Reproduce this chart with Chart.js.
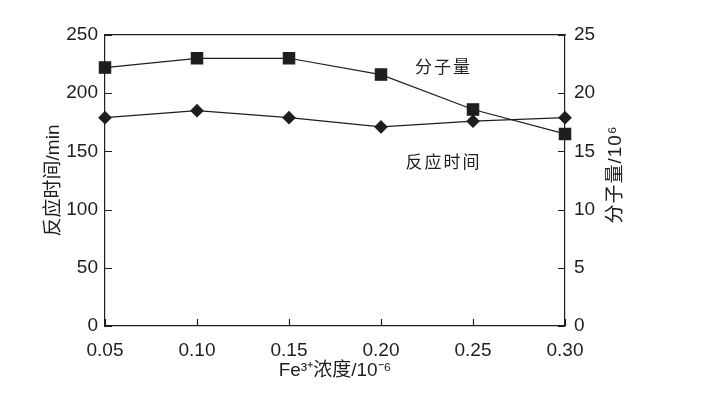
<!DOCTYPE html>
<html>
<head>
<meta charset="utf-8">
<script src="https://cdn.jsdelivr.net/npm/chart.js@4"></script>
<style>
  body { margin: 0; background: #fff; }
  #chart { display: block; }
</style>
</head>
<body>
<canvas id="chart" width="703" height="397"></canvas>
<script>
// 数据 — Fe3+ 浓度对反应时间和分子量的影响
const concentrations = [0.05, 0.10, 0.15, 0.20, 0.25, 0.30];
const reactionTime = [179, 185, 179, 171, 176, 179];   // min, 左轴
const molecularWeight = [22.2, 23.0, 23.0, 21.6, 18.6, 16.5]; // 10^6, 右轴

const xTicks = [0.05, 0.10, 0.15, 0.20, 0.25, 0.30];
const yLeftTicks = [0, 50, 100, 150, 200, 250];
const yRightTicks = [0, 5, 10, 15, 20, 25];

// 曲线旁的文字标注 (数据坐标)
const notes = [
  { text: '分子量', x: 0.234, y: 221 },
  { text: '反应时间', x: 0.234, y: 140 }
];

const INK = '#1e1e1e';
const FONT = '"Liberation Sans", "Noto Sans CJK SC", sans-serif';

function fixTicks(list) {
  return scale => { scale.ticks = list.map(v => ({ value: v })); };
}

// 向内的刻度线 + 标注 + 右轴标题
const extras = {
  id: 'extras',
  afterDatasetsDraw(chart) {
    const { ctx, chartArea: a, scales } = chart;
    ctx.save();
    ctx.strokeStyle = INK;
    ctx.lineWidth = 1.2;
    ctx.beginPath();
    xTicks.forEach(v => {
      const px = Math.round(scales.x.getPixelForValue(v)) + 0.5;
      ctx.moveTo(px, a.bottom); ctx.lineTo(px, a.bottom - 7);
    });
    yLeftTicks.forEach(v => {
      const py = Math.round(scales.y.getPixelForValue(v)) + 0.5;
      ctx.moveTo(a.left, py); ctx.lineTo(a.left + 7, py);
    });
    yRightTicks.forEach(v => {
      const py = Math.round(scales.y2.getPixelForValue(v)) + 0.5;
      ctx.moveTo(a.right, py); ctx.lineTo(a.right - 7, py);
    });
    ctx.stroke();

    ctx.fillStyle = INK;
    ctx.font = '17px ' + FONT;
    ctx.letterSpacing = '2px';
    ctx.textAlign = 'center';
    ctx.textBaseline = 'middle';
    notes.forEach(n => {
      ctx.fillText(n.text, scales.x.getPixelForValue(n.x), scales.y.getPixelForValue(n.y));
    });

    // 右轴标题, 自下而上
    ctx.letterSpacing = '1px';
    ctx.translate(a.right + 51, (a.top + a.bottom) / 2 - 6);
    ctx.rotate(-Math.PI / 2);
    ctx.font = '19px ' + FONT;
    ctx.fillText('分子量/10⁶', 0, 0);
    ctx.restore();
  }
};

const tickFont = { family: FONT, size: 19 };
const axisBorder = { display: true, color: INK, width: 1.2 };
const noGrid = { display: false, drawTicks: false };

new Chart(document.getElementById('chart'), {
  type: 'line',
  data: {
    datasets: [
      {
        label: '分子量',
        data: concentrations.map((c, i) => ({ x: c, y: molecularWeight[i] })),
        yAxisID: 'y2',
        borderColor: INK,
        backgroundColor: INK,
        borderWidth: 1.2,
        pointStyle: 'rect',
        pointRadius: 8,
        clip: false
      },
      {
        label: '反应时间',
        data: concentrations.map((c, i) => ({ x: c, y: reactionTime[i] })),
        yAxisID: 'y',
        borderColor: INK,
        backgroundColor: INK,
        borderWidth: 1.2,
        pointStyle: 'rectRot',
        pointRadius: 6,
        clip: false
      }
    ]
  },
  options: {
    responsive: false,
    animation: false,
    layout: { padding: 0 },
    plugins: { legend: { display: false }, tooltip: { enabled: false } },
    elements: { line: { tension: 0 } },
    scales: {
      x: {
        type: 'linear',
        position: 'bottom',
        min: 0.05,
        max: 0.30,
        afterBuildTicks: fixTicks(xTicks),
        afterFit: s => { s.height = 71; },
        grid: noGrid,
        border: axisBorder,
        ticks: {
          color: INK, padding: 13, font: tickFont,
          callback: v => Number(v).toFixed(2)
        },
        title: {
          display: true, text: 'Fe³⁺浓度/10⁻⁶', color: INK,
          font: { family: FONT, size: 19 },
          padding: { top: 15, bottom: 15 }
        }
      },
      xTop: {
        type: 'linear',
        position: 'top',
        min: 0.05,
        max: 0.30,
        afterFit: s => { s.height = 35; },
        grid: noGrid,
        border: axisBorder,
        ticks: { display: false }
      },
      y: {
        position: 'left',
        min: 0,
        max: 250,
        afterBuildTicks: fixTicks(yLeftTicks),
        afterFit: s => { s.width = 105; },
        grid: noGrid,
        border: axisBorder,
        ticks: { color: INK, padding: 7, font: tickFont },
        title: {
          display: true, text: '反应时间/min', color: INK,
          font: { family: FONT, size: 19 },
          padding: { top: 42, bottom: 42 }
        }
      },
      y2: {
        position: 'right',
        min: 0,
        max: 25,
        afterBuildTicks: fixTicks(yRightTicks),
        afterFit: s => { s.width = 138; },
        grid: noGrid,
        border: axisBorder,
        ticks: { color: INK, padding: 9, font: tickFont }
      }
    }
  },
  plugins: [extras]
});
</script>
</body>
</html>
